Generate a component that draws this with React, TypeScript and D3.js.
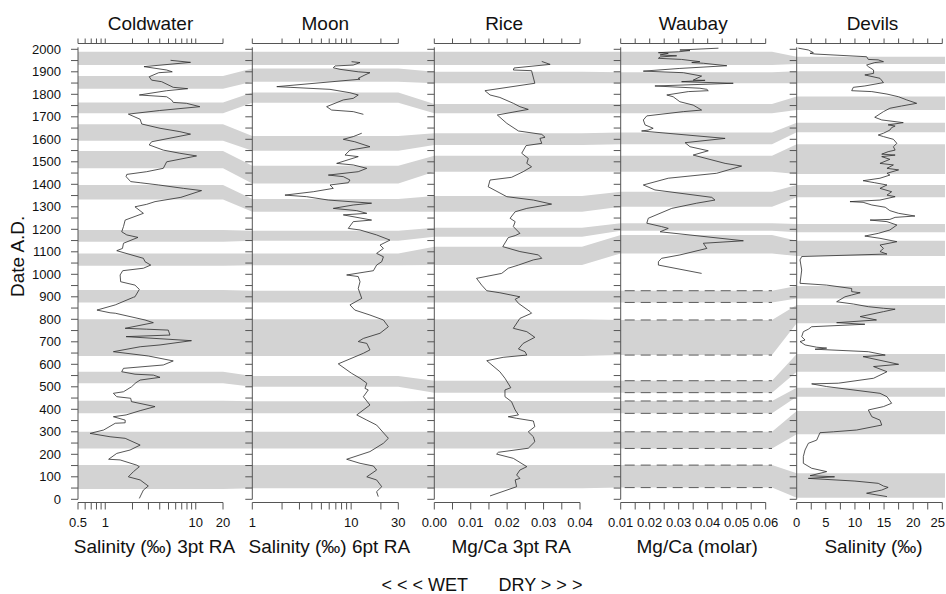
import React from "react";
import * as d3 from "d3";

const width = 946;
const height = 594;
const font = "Liberation Sans, Arial, Helvetica, sans-serif";
const bandFill = "#d3d3d3";
const ink = "#2b2b2b";
const axisInk = "#555";

const lakes = ["Coldwater", "Moon", "Rice", "Waubay", "Devils"];
const axisTitles = [
  "Salinity (‰) 3pt RA",
  "Salinity (‰) 6pt RA",
  "Mg/Ca 3pt RA",
  "Mg/Ca (molar)",
  "Salinity (‰)"
];

const yearTicks = d3.range(0, 2001, 50);
const yearLabels = d3.range(0, 2001, 100);

// x-axis ticks and labels per panel
const coldwaterTicks = [0.5, 0.6, 0.7, 0.8, 0.9, 1, 2, 3, 4, 5, 6, 7, 8, 9, 10, 20];
const coldwaterLabels = [0.5, 1, 10, 20];
const moonTicks = [1, 2, 3, 4, 5, 6, 7, 8, 9, 10, 20, 30];
const moonLabels = [1, 10, 30];
const riceTicks = [0, 0.005, 0.01, 0.015, 0.02, 0.025, 0.03, 0.035, 0.04];
const riceLabels = [0, 0.01, 0.02, 0.03, 0.04];
const waubayTicks = [0.01, 0.015, 0.02, 0.025, 0.03, 0.035, 0.04, 0.045, 0.05, 0.055, 0.06];
const waubayLabels = [0.01, 0.02, 0.03, 0.04, 0.05, 0.06];
const devilsTicks = [0, 2.5, 5, 7.5, 10, 12.5, 15, 17.5, 20, 22.5, 25];
const devilsLabels = [0, 5, 10, 15, 20, 25];

// records: [year A.D., value]
const coldwater = [
  [1951, 5.27], [1942, 8.75], [1923, 2.68], [1908, 4.77], [1900, 5.5], [1896, 3.9],
  [1878, 3.06], [1863, 3.25], [1856, 4.2], [1831, 5.64], [1825, 8.15], [1816, 4.77],
  [1797, 2.38], [1789, 4.77], [1775, 5.4], [1764, 5.64], [1760, 7.9], [1745, 11.1],
  [1728, 4.0], [1712, 1.8], [1689, 2.43], [1668, 2.53], [1649, 4.03], [1634, 6.68],
  [1623, 8.75], [1589, 3.25], [1575, 3.06], [1552, 4.38], [1538, 6.68], [1526, 10.2],
  [1500, 4.77], [1471, 4.38], [1456, 2.87], [1444, 1.73], [1434, 1.7], [1412, 1.91],
  [1407, 2.43], [1397, 3.9], [1382, 7.3], [1372, 11.6], [1342, 6.85], [1323, 3.55],
  [1311, 2.87], [1300, 2.13], [1271, 2.64], [1241, 1.66], [1212, 1.59], [1189, 1.52],
  [1175, 1.73], [1164, 2.3], [1138, 1.59], [1115, 1.55], [1105, 1.34], [1071, 2.64],
  [1056, 2.75], [1041, 3.18], [1027, 2.64], [1016, 1.56], [997, 1.46], [967, 1.48],
  [952, 2.13], [933, 2.38], [900, 2.13], [898, 2.05], [864, 1.29], [841, 0.81],
  [829, 1.13], [827, 1.29], [797, 2.75], [785, 3.4], [760, 1.66], [756, 2.87],
  [752, 4.97], [730, 5.19], [723, 1.7], [705, 8.97], [686, 4.03], [678, 2.43],
  [656, 1.23], [637, 2.99], [615, 5.64], [597, 4.38], [582, 1.59], [567, 1.52],
  [556, 2.13], [552, 3.4], [542, 4.03], [530, 2.43], [518, 2.18], [500, 1.95],
  [478, 1.59], [471, 1.23], [456, 1.34], [449, 1.91], [434, 1.95], [412, 3.55],
  [394, 2.43], [375, 1.7], [367, 1.23], [352, 1.66], [340, 1.66], [338, 1.29],
  [308, 0.96], [293, 0.68], [278, 1.13], [271, 1.66], [241, 2.43], [219, 1.88],
  [204, 1.34], [178, 1.09], [175, 1.46], [152, 2.22], [145, 2.38], [123, 2.05],
  [100, 1.8], [86, 2.43], [59, 2.99], [41, 2.64], [4, 2.38]
];

const moonUpper = [
  [1945, 10.1], [1941, 12.3], [1930, 10.5], [1926, 6.87], [1918, 6.6], [1911, 7.71],
  [1900, 11.8], [1896, 15.5], [1886, 13.8], [1871, 11.8], [1867, 12.3], [1834, 1.77],
  [1831, 2.41], [1822, 6.11], [1807, 9.73], [1797, 11.8], [1782, 10.5], [1775, 8.33],
  [1745, 5.65], [1730, 6.35], [1723, 10.5], [1711, 13.3]
];

const moonLower = [
  [1627, 12.8], [1612, 10.5], [1600, 8.33], [1589, 10.9], [1567, 15.5], [1552, 9.73],
  [1530, 8.67], [1523, 11.8], [1493, 7.14], [1486, 10.5], [1471, 14.4], [1456, 11.8],
  [1441, 5.88], [1434, 8.33], [1419, 9.73], [1407, 9.36], [1397, 6.11], [1382, 6.6],
  [1367, 4.14], [1352, 2.14], [1345, 3.55], [1330, 5.88], [1316, 16.1], [1308, 10.5],
  [1293, 6.6], [1283, 11.4], [1271, 14.4], [1264, 8.33], [1241, 16.1], [1234, 10.5],
  [1204, 9.36], [1197, 12.3], [1175, 18.1], [1152, 24.7], [1130, 19.6], [1115, 21.2],
  [1093, 18.1], [1078, 21.2], [1056, 20.4], [1041, 18.1], [1016, 16.8], [997, 9.01],
  [990, 11.8], [967, 12.3], [937, 11.8], [893, 12.8], [864, 9.73], [841, 10.9],
  [819, 15.5], [797, 21.2], [767, 23.8], [738, 19.6], [715, 13.3], [701, 11.8],
  [693, 14.4], [664, 15.5], [649, 13.3], [602, 7.41], [560, 10.1], [538, 12.3],
  [516, 14.4], [493, 13.8], [486, 14.9], [456, 13.3], [419, 15.5], [375, 11.4],
  [352, 14.4], [330, 18.1], [271, 23.8], [249, 21.2], [212, 15.5], [178, 9.01],
  [160, 12.3], [148, 16.8], [130, 18.1], [100, 14.4], [86, 18.1], [56, 20.4],
  [34, 18.1], [12, 18.8]
];

const rice = [
  [1946, 0.0295], [1933, 0.0318], [1917, 0.0219], [1908, 0.0217], [1905, 0.0267],
  [1849, 0.0276], [1816, 0.0139], [1797, 0.0153], [1786, 0.018], [1760, 0.0217],
  [1745, 0.0235], [1733, 0.0258], [1708, 0.0173], [1671, 0.0199], [1637, 0.0231],
  [1622, 0.0295], [1609, 0.0304], [1604, 0.029], [1582, 0.0295], [1572, 0.0252],
  [1538, 0.024], [1515, 0.0258], [1493, 0.0254], [1478, 0.0267], [1456, 0.0244],
  [1431, 0.0212], [1419, 0.0153], [1389, 0.0148], [1345, 0.0199], [1330, 0.0272],
  [1312, 0.0322], [1293, 0.0254], [1278, 0.0222], [1249, 0.0208], [1234, 0.0222],
  [1212, 0.0217], [1182, 0.0235], [1172, 0.0222], [1163, 0.0203], [1123, 0.0188],
  [1101, 0.0235], [1086, 0.0286], [1071, 0.0295], [1064, 0.0272], [1041, 0.0231],
  [1027, 0.0203], [1004, 0.0185], [982, 0.0116], [952, 0.013], [927, 0.0144],
  [918, 0.018], [900, 0.0235], [889, 0.0222], [871, 0.0231], [834, 0.0263],
  [827, 0.0267], [804, 0.0235], [760, 0.0217], [745, 0.0254], [720, 0.0276],
  [693, 0.0244], [668, 0.0231], [656, 0.0249], [641, 0.0254], [631, 0.0189],
  [616, 0.0144], [567, 0.018], [538, 0.0194], [496, 0.021], [486, 0.0194],
  [456, 0.0194], [434, 0.0212], [397, 0.0222], [375, 0.0231], [367, 0.0203],
  [360, 0.0226], [348, 0.0272], [323, 0.0276], [300, 0.0258], [278, 0.0272],
  [256, 0.0276], [227, 0.0258], [209, 0.0176], [201, 0.0171], [182, 0.0217],
  [145, 0.0254], [130, 0.0235], [108, 0.0226], [93, 0.0235], [86, 0.0222],
  [56, 0.0226], [15, 0.0153]
];

const waubay = [
  [2005, 0.0437], [1997, 0.0304], [1994, 0.0339], [1989, 0.0299], [1985, 0.023],
  [1982, 0.0264], [1975, 0.0236], [1971, 0.0293], [1966, 0.0236], [1960, 0.023],
  [1955, 0.031], [1945, 0.0373], [1941, 0.0345], [1938, 0.0385], [1927, 0.0466],
  [1915, 0.0304], [1903, 0.0178], [1896, 0.0316], [1881, 0.0379], [1863, 0.035],
  [1862, 0.0391], [1856, 0.031], [1849, 0.0488], [1837, 0.0218], [1827, 0.0373],
  [1822, 0.0397], [1816, 0.0402], [1812, 0.0333], [1797, 0.0259], [1789, 0.0281],
  [1767, 0.0304], [1752, 0.035], [1730, 0.0379], [1723, 0.0316], [1704, 0.019],
  [1686, 0.0178], [1664, 0.0184], [1649, 0.0212], [1641, 0.0195], [1637, 0.0172],
  [1604, 0.046], [1585, 0.0322], [1567, 0.0339], [1549, 0.0402], [1530, 0.035],
  [1493, 0.046], [1481, 0.0517], [1449, 0.0431], [1427, 0.0264], [1397, 0.0178],
  [1375, 0.0218], [1342, 0.0414], [1330, 0.0425], [1316, 0.0362], [1293, 0.0276],
  [1249, 0.0195], [1227, 0.019], [1212, 0.0241], [1204, 0.0264], [1189, 0.0236],
  [1149, 0.0523], [1138, 0.0385], [1115, 0.0397], [1086, 0.0304], [1071, 0.0241],
  [1056, 0.023], [1041, 0.023], [1004, 0.0379]
];

const devils = [
  [2005, 0.28], [1997, 2.0], [1985, 2.86], [1982, 2.29], [1979, 3.15], [1967, 12.0],
  [1955, 12.3], [1953, 14.0], [1945, 14.9], [1941, 13.4], [1930, 12.0], [1923, 12.3],
  [1908, 13.2], [1893, 13.2], [1886, 11.7], [1871, 14.3], [1852, 14.9], [1837, 11.7],
  [1831, 9.72], [1816, 9.44], [1812, 12.9], [1801, 15.5], [1789, 17.5], [1775, 18.9],
  [1760, 20.6], [1748, 18.0], [1738, 16.0], [1723, 14.9], [1698, 13.4], [1686, 14.6],
  [1674, 18.3], [1664, 15.7], [1659, 16.9], [1652, 16.3], [1641, 16.0], [1627, 14.9],
  [1619, 14.0], [1612, 14.9], [1600, 16.6], [1582, 17.2], [1567, 16.6], [1552, 16.9],
  [1545, 15.7], [1534, 14.6], [1530, 16.9], [1523, 14.6], [1511, 16.0], [1493, 14.3],
  [1486, 16.6], [1471, 15.5], [1464, 17.5], [1449, 15.5], [1441, 16.0], [1427, 14.3],
  [1416, 11.4], [1407, 13.4], [1397, 15.5], [1382, 14.3], [1367, 16.3], [1352, 15.5],
  [1345, 16.9], [1330, 14.3], [1323, 9.15], [1320, 11.4], [1308, 12.9], [1298, 15.2],
  [1283, 16.0], [1271, 17.5], [1259, 20.3], [1253, 16.9], [1244, 16.0], [1241, 12.6],
  [1234, 15.5], [1219, 17.2], [1197, 16.0], [1182, 14.0], [1170, 11.7], [1160, 14.3],
  [1145, 17.2], [1130, 14.3], [1115, 14.9], [1101, 14.3], [1090, 15.5], [1079, 0.86],
  [1064, 0.57], [1019, 0.86], [960, 0.57], [952, 5.15], [937, 9.44], [923, 9.44],
  [918, 10.9], [908, 9.44], [900, 8.29], [878, 6.86], [868, 9.72], [856, 12.3],
  [849, 14.9], [845, 16.9], [834, 14.9], [812, 10.9], [797, 13.7], [785, 6.86],
  [778, 11.7], [767, 2.57], [756, 2.0], [745, 1.14], [723, 0.86], [708, 1.43],
  [701, 0.57], [686, 1.43], [676, 3.43], [672, 5.15], [667, 3.15], [656, 12.3],
  [641, 15.2], [634, 11.4], [600, 17.5], [590, 13.2], [567, 15.5], [538, 13.2],
  [516, 7.15], [513, 2.57], [501, 5.15], [471, 14.3], [456, 15.5], [427, 16.3],
  [412, 14.9], [397, 12.3], [367, 12.9], [352, 14.3], [330, 14.6], [308, 10.3],
  [300, 6.29], [296, 4.0], [263, 3.43], [249, 2.0], [219, 1.43], [190, 1.14],
  [160, 1.14], [138, 2.57], [123, 5.15], [105, 2.3], [100, 6.5], [93, 2.0],
  [81, 10.0], [71, 14.0], [59, 14.9], [53, 15.7], [41, 14.6], [27, 12.0], [12, 15.5]
];

// shaded intervals [top year, bottom year] for each record
const coldwaterBands = [
  [1989, 1930], [1881, 1825], [1764, 1716], [1667, 1594], [1548, 1471], [1397, 1333],
  [1197, 1145], [1093, 1038], [930, 875], [800, 637], [567, 516], [438, 382],
  [300, 226], [152, 46]
];
const moonBands = [
  [1989, 1930], [1915, 1856], [1808, 1762], [1615, 1549], [1483, 1404], [1335, 1278],
  [1194, 1149], [1093, 1040], [927, 875], [800, 637], [548, 500], [436, 382],
  [300, 226], [152, 49]
];
const riceBands = [
  [1989, 1930], [1900, 1849], [1757, 1716], [1627, 1575], [1527, 1456], [1348, 1278],
  [1207, 1167], [1123, 1041], [927, 875], [800, 637], [527, 474], [437, 382],
  [300, 226], [152, 49]
];
const waubayBands = [
  [1989, 1930], [1898, 1849], [1757, 1716], [1630, 1578], [1527, 1456], [1367, 1300],
  [1227, 1194], [1175, 1093], [927, 875], [797, 641], [527, 474], [437, 382],
  [300, 226], [152, 52]
];
const devilsBands = [
  [1967, 1935], [1903, 1849], [1790, 1730], [1674, 1631], [1578, 1446], [1397, 1342],
  [1224, 1187], [1149, 1081], [948, 893], [864, 782], [646, 567], [496, 456],
  [392, 289], [116, 7]
];
const waubayDashed = [927, 875, 797, 641, 527, 474, 437, 382, 300, 226, 152, 52];

// layout
const yTop = 49.3;
const yBottom = 499.3;
const topAxisY = 43.5;
const bottomAxisY = 502.5;
const panelX = [
  [78, 223], [252.3, 398.3], [434.3, 580], [620.7, 765.7], [796.7, 942.3]
];
const bandEnd = [223, 398.3, 582, 772, 945];

const y = d3.scaleLinear().domain([0, 2000]).range([yBottom, yTop]);

const xScales = [
  d3.scaleLog().domain([0.5, 20]).range(panelX[0]),
  d3.scaleLog().domain([1, 30]).range(panelX[1]),
  d3.scaleLinear().domain([0, 0.04]).range(panelX[2]),
  d3.scaleLinear().domain([0.01, 0.06]).range(panelX[3]),
  d3.scaleLinear().domain([0, 25]).range(panelX[4])
];
const ticks = [coldwaterTicks, moonTicks, riceTicks, waubayTicks, devilsTicks];
const labels = [coldwaterLabels, moonLabels, riceLabels, waubayLabels, devilsLabels];
const fmt = [
  (d: number) => String(d),
  (d: number) => String(d),
  (d: number) => d.toFixed(2),
  (d: number) => d.toFixed(2),
  (d: number) => String(d)
];
const bandSets = [coldwaterBands, moonBands, riceBands, waubayBands, devilsBands];
const series = [[coldwater], [moonUpper, moonLower], [rice], [waubay], [devils]];

const poly = d3.line<number[]>().x(d => d[0]).y(d => d[1]);

function bandPath(j: number) {
  const topPts: number[][] = [];
  const botPts: number[][] = [];
  bandSets.forEach((bands, i) => {
    const [t, b] = bands[j];
    topPts.push([panelX[i][0], y(t)], [bandEnd[i], y(t)]);
    botPts.push([panelX[i][0], y(b)], [bandEnd[i], y(b)]);
  });
  return poly(topPts.concat(botPts.reverse())) + "Z";
}

export default function App() {
  return (
    <svg
      width={width}
      height={height}
      style={{ position: "absolute", left: 0, top: 0, background: "#fff" }}
      fontFamily={font}
    >
      {coldwaterBands.map((_, j) => (
        <path key={"band" + j} d={bandPath(j)} fill={bandFill} />
      ))}

      {waubayDashed.map(yr => (
        <line
          key={"dash" + yr}
          x1={panelX[3][0] + 4}
          x2={bandEnd[3]}
          y1={y(yr)}
          y2={y(yr)}
          stroke="#5a5a5a"
          strokeWidth={1}
          strokeDasharray="10,6"
        />
      ))}

      {lakes.map((name, i) => {
        const xs = xScales[i];
        const [x0, x1] = panelX[i];
        const line = d3
          .line<number[]>()
          .x(d => xs(d[1]))
          .y(d => y(d[0]));
        return (
          <g key={name}>
            <text
              x={(x0 + x1) / 2 + (i === 4 ? 3 : i === 2 ? -3 : 0)}
              y={29.5}
              textAnchor="middle"
              fontSize={19}
              fill="#111"
            >
              {name}
            </text>

            {/* vertical axis */}
            <line x1={x0} x2={x0} y1={yTop - 2} y2={yBottom} stroke={axisInk} />
            {yearTicks.map(t => (
              <line key={t} x1={x0 - 7} x2={x0} y1={y(t)} y2={y(t)} stroke={axisInk} />
            ))}

            {/* top axis */}
            <line x1={x0} x2={x1} y1={topAxisY} y2={topAxisY} stroke={axisInk} />
            {ticks[i].map(t => (
              <line
                key={"t" + t}
                x1={xs(t)}
                x2={xs(t)}
                y1={topAxisY}
                y2={topAxisY - 5}
                stroke={axisInk}
              />
            ))}

            {/* bottom axis */}
            <line x1={x0} x2={x1} y1={bottomAxisY} y2={bottomAxisY} stroke={axisInk} />
            {ticks[i].map(t => (
              <line
                key={"b" + t}
                x1={xs(t)}
                x2={xs(t)}
                y1={bottomAxisY}
                y2={bottomAxisY + 7}
                stroke={axisInk}
              />
            ))}
            {labels[i].map(t => {
              const lx = xs(t);
              const atEdge = lx + 8 > width;
              return (
                <text
                  key={"l" + t}
                  x={atEdge ? width - 1 : lx}
                  y={526.5}
                  textAnchor={atEdge ? "end" : "middle"}
                  fontSize={13}
                  fill="#111"
                >
                  {fmt[i](t)}
                </text>
              );
            })}
            <text
              x={(x0 + x1) / 2 + 4}
              y={553}
              textAnchor="middle"
              fontSize={19}
              fill="#111"
            >
              {axisTitles[i]}
            </text>

            {series[i].map((s, k) => (
              <path
                key={"s" + k}
                d={line(s) || ""}
                fill="none"
                stroke={ink}
                strokeWidth={0.8}
                strokeLinejoin="round"
              />
            ))}
          </g>
        );
      })}

      {yearLabels.map(t => (
        <text
          key={"yl" + t}
          x={61}
          y={y(t) + 4.6}
          textAnchor="end"
          fontSize={13}
          fill="#111"
        >
          {t}
        </text>
      ))}
      <text
        transform={`translate(24, ${y(1080)}) rotate(-90)`}
        textAnchor="middle"
        fontSize={19}
        fill="#111"
      >
        Date A.D.
      </text>

      <text x={381.5} y={591} fontSize={18} fill="#111">
        {"< < < WET"}
      </text>
      <text x={498.5} y={591} fontSize={18} fill="#111">
        {"DRY > > >"}
      </text>
    </svg>
  );
}
